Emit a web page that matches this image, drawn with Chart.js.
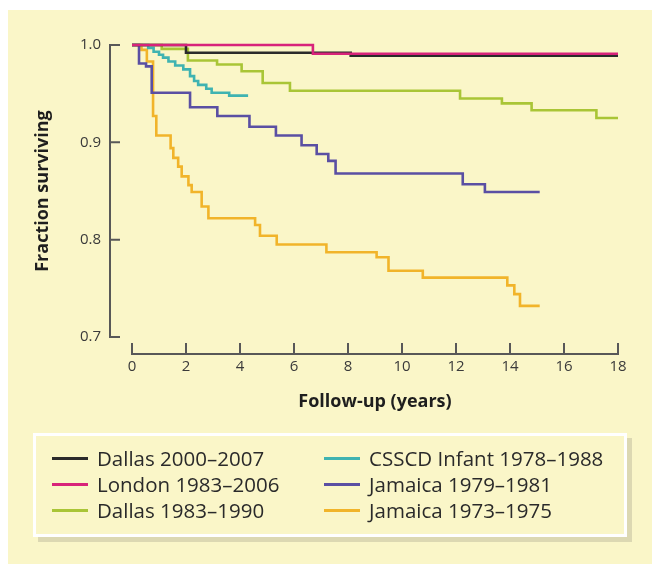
<!DOCTYPE html>
<html>
<head>
<meta charset="utf-8">
<script src="https://cdn.jsdelivr.net/npm/chart.js@4/dist/chart.umd.min.js"></script>
<style>
  html, body { margin: 0; padding: 0; background: #ffffff; }
  body { width: 652px; height: 564px; position: relative; overflow: hidden; font-family: "Open Sans", sans-serif; }
  #panel { position: absolute; left: 8px; top: 10px; right: 0; bottom: 0; background: #faf6c8; }
  #c { position: absolute; left: 0; top: 0; }
  #legend { position: absolute; left: 33px; top: 433px; width: 594px; height: 104px; box-sizing: border-box;
            border: 3px solid #ffffff; box-shadow: 5px 5px 0 #dcd8b2; }
  #legend ul { list-style: none; margin: 0; padding: 9px 0 0 16px; display: grid;
               grid-template-columns: 272px 290px; grid-auto-flow: column; grid-template-rows: repeat(3, 26px); }
  #legend li { display: flex; align-items: center; font-size: 20.5px; line-height: 26px; color: #2a2a2a; white-space: nowrap; }
  #legend li span.sw { display: inline-block; width: 36px; height: 3px; margin-right: 9px; flex: none; }
</style>
</head>
<body>
<div id="panel"></div>
<canvas id="c" width="652" height="564"></canvas>
<div id="legend"></div>
<script>
// ---- data (years of follow-up, fraction surviving) ----
const xTickValues = [0, 2, 4, 6, 8, 10, 12, 14, 16, 18];
const yTickValues = [0.7, 0.8, 0.9, 1.0];

const seriesLabels = ["Dallas 2000\u20132007", "London 1983\u20132006", "Dallas 1983\u20131990",
                      "CSSCD Infant 1978\u20131988", "Jamaica 1979\u20131981", "Jamaica 1973\u20131975"];

const dallas2000Years = [0, 2.0, 8.1, 18];
const dallas2000Surv  = [1.0, 0.992, 0.989, 0.989];

const londonYears = [0, 6.7, 18];
const londonSurv  = [1.0, 0.991, 0.991];

const dallas1983Years = [0, 1.1, 2.07, 3.15, 4.06, 4.84, 5.85, 12.15, 13.7, 14.8, 17.2, 18];
const dallas1983Surv  = [1.0, 0.996, 0.984, 0.980, 0.973, 0.961, 0.953, 0.945, 0.940, 0.933, 0.925, 0.925];

const csscdYears = [0, 0.6, 0.8, 1.0, 1.15, 1.35, 1.6, 1.9, 2.15, 2.3, 2.45, 2.75, 2.95, 3.6, 4.3];
const csscdSurv  = [1.0, 0.997, 0.993, 0.990, 0.987, 0.983, 0.979, 0.975, 0.968, 0.963, 0.959, 0.955, 0.951, 0.948, 0.948];

const jamaica79Years = [0, 0.26, 0.52, 0.73, 2.15, 3.16, 4.35, 5.33, 6.28, 6.84, 7.27, 7.54, 12.25, 13.07, 15.1];
const jamaica79Surv  = [1.0, 0.981, 0.978, 0.951, 0.936, 0.927, 0.916, 0.907, 0.897, 0.888, 0.881, 0.868, 0.857, 0.849, 0.849];

const jamaica73Years = [0, 0.35, 0.55, 0.78, 0.9, 1.43, 1.53, 1.71, 1.84, 2.09, 2.21, 2.58, 2.83, 4.56, 4.74, 5.36, 7.2, 9.06, 9.5, 10.77, 13.9, 14.16, 14.37, 15.1];
const jamaica73Surv  = [1.0, 0.995, 0.983, 0.927, 0.907, 0.894, 0.884, 0.875, 0.865, 0.856, 0.849, 0.834, 0.822, 0.815, 0.804, 0.795, 0.787, 0.782, 0.768, 0.761, 0.753, 0.744, 0.732, 0.732];

const seriesColors = ["#2b2b2b", "#d8237a", "#a9c536", "#3fb3b1", "#5a4fa3", "#f1b42a"];

function pts(xs, ys) { return xs.map((x, i) => ({ x: x, y: ys[i] })); }

const seriesData = [
  pts(dallas2000Years, dallas2000Surv),
  pts(londonYears, londonSurv),
  pts(dallas1983Years, dallas1983Surv),
  pts(csscdYears, csscdSurv),
  pts(jamaica79Years, jamaica79Surv),
  pts(jamaica73Years, jamaica73Surv)
];
const drawOrder = [2, 1, 6, 4, 3, 5]; // lower = drawn on top

const AXIS_COLOR = "#585858";
const Y_AXIS_GAP = 22, X_AXIS_GAP = 17, TICK_LEN = 10;

// axes drawn detached from the plot area, ticks pointing inward (positions from the Chart.js scales)
const detachedAxes = {
  id: "detachedAxes",
  afterDraw(chart) {
    const { ctx, chartArea, scales } = chart;
    const xs = scales.x, ys = scales.y;
    ctx.save();
    ctx.strokeStyle = AXIS_COLOR;
    ctx.lineWidth = 2;
    ctx.lineCap = "butt";
    const ax = chartArea.left - Y_AXIS_GAP;
    ctx.beginPath();
    ctx.moveTo(ax, ys.getPixelForValue(ys.max));
    ctx.lineTo(ax, ys.getPixelForValue(ys.min) + 1);
    ys.ticks.forEach(t => {
      const py = ys.getPixelForValue(t.value);
      ctx.moveTo(ax - 1, py);
      ctx.lineTo(ax + TICK_LEN, py);
    });
    ctx.stroke();
    const ay = chartArea.bottom + X_AXIS_GAP;
    ctx.beginPath();
    ctx.moveTo(xs.getPixelForValue(xs.min) - 1, ay);
    ctx.lineTo(xs.getPixelForValue(xs.max) + 1, ay);
    xs.ticks.forEach(t => {
      const px = xs.getPixelForValue(t.value);
      ctx.moveTo(px, ay + 1);
      ctx.lineTo(px, ay - TICK_LEN - 1);
    });
    ctx.stroke();
    ctx.restore();
  }
};

// HTML legend generated from the chart's datasets, laid out in two columns
const htmlLegend = {
  id: "htmlLegend",
  afterUpdate(chart) {
    const box = document.getElementById("legend");
    box.innerHTML = "";
    const ul = document.createElement("ul");
    chart.data.datasets.forEach(ds => {
      const li = document.createElement("li");
      const sw = document.createElement("span");
      sw.className = "sw";
      sw.style.background = ds.borderColor;
      li.appendChild(sw);
      li.appendChild(document.createTextNode(ds.label));
      ul.appendChild(li);
    });
    box.appendChild(ul);
  }
};

Chart.defaults.font.family = '"Open Sans", sans-serif';
Chart.defaults.color = "#333333";

new Chart(document.getElementById("c"), {
  type: "line",
  data: {
    datasets: seriesLabels.map((lab, i) => ({
      label: lab,
      data: seriesData[i],
      borderColor: seriesColors[i],
      backgroundColor: seriesColors[i],
      borderWidth: 2.6,
      stepped: "before",
      pointRadius: 0,
      fill: false,
      order: drawOrder[i],
      clip: false
    }))
  },
  options: {
    responsive: false,
    animation: false,
    events: [],
    layout: { padding: { left: 32, top: 45, right: 34, bottom: 137 } },
    plugins: { legend: { display: false }, tooltip: { enabled: false } },
    scales: {
      x: {
        type: "linear",
        min: 0, max: 18,
        afterBuildTicks: s => { s.ticks = xTickValues.map(v => ({ value: v })); },
        afterFit: s => { s.height = 90; },
        grid: { display: false, drawTicks: false },
        border: { display: false },
        ticks: { padding: 21, font: { size: 15 }, color: "#3a3a3a" },
        title: { display: true, text: "Follow-up (years)", font: { size: 18, weight: "bold" }, color: "#1e1e1e",
                 padding: { top: 0, bottom: 14 } }
      },
      y: {
        type: "linear",
        min: 0.7, max: 1.0,
        afterBuildTicks: s => { s.ticks = yTickValues.map(v => ({ value: v })); },
        afterFit: s => { s.width = 100; },
        grid: { display: false, drawTicks: false },
        border: { display: false },
        ticks: { padding: 31, font: { size: 15 }, color: "#3a3a3a", callback: v => v.toFixed(1) },
        title: { display: true, text: "Fraction surviving", font: { size: 18, weight: "bold" }, color: "#1e1e1e",
                 padding: { top: 0, bottom: 0 } }
      }
    }
  },
  plugins: [detachedAxes, htmlLegend]
});
</script>
</body>
</html>
